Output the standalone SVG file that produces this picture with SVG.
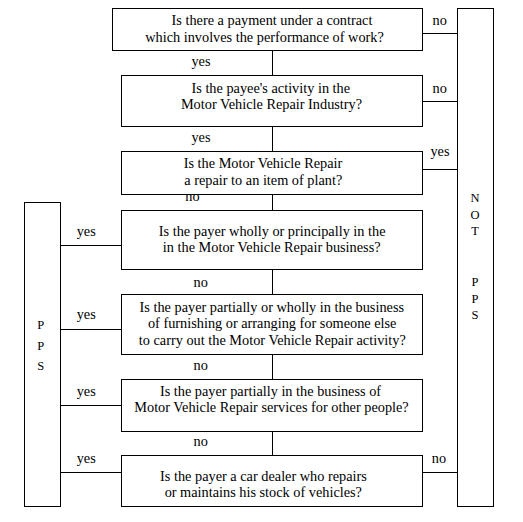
<svg xmlns="http://www.w3.org/2000/svg" width="523" height="522" viewBox="0 0 523 522">
<style>
.box{fill:#fff;stroke:#000;stroke-width:1}
.ln{stroke:#000;stroke-width:1;fill:none}
text{font-family:'Liberation Serif','DejaVu Serif','Times New Roman',Times,serif;font-size:14.3px;fill:#000;text-anchor:middle}
.lt{font-size:12.5px}
</style>
<rect width="523" height="522" fill="#fff"/>
<g id="connectors">
<path class="ln" d="M272.5 50.5V455.5"/>
<path class="ln" d="M422.5 33.5H457.5M422.5 101.5H457.5M422.5 169.5H457.5M422.5 472.5H457.5"/>
<path class="ln" d="M60.5 245.5H121.5M60.5 329.5H121.5M60.5 405.5H121.5M60.5 472.5H121.5"/>
</g>
<g id="labels">
<text x="439.7" y="25">no</text>
<text x="201" y="66">yes</text>
<text x="439.7" y="92.7">no</text>
<text x="201" y="141.7">yes</text>
<text x="440" y="155.7">yes</text>
<text x="192.5" y="200.5">no</text>
<text x="86.2" y="235.7">yes</text>
<text x="200.7" y="286.7">no</text>
<text x="86.2" y="319.3">yes</text>
<text x="200.7" y="370">no</text>
<text x="86.2" y="395.7">yes</text>
<text x="200.7" y="446">no</text>
<text x="86.2" y="463.3">yes</text>
<text x="439" y="463.3">no</text>
</g>
<g id="q1">
<rect class="box" x="112.5" y="8.5" width="310" height="42"/>
<text x="272" y="25">Is there a payment under a contract</text>
<text x="264.5" y="41.7">which involves the performance of work?</text>
</g>
<g id="q2">
<rect class="box" x="121.5" y="75.5" width="301" height="51"/>
<text x="270.8" y="92.7">Is the payee's activity in the</text>
<text x="271.5" y="109.3">Motor Vehicle Repair  Industry?</text>
</g>
<g id="q3">
<rect class="box" x="121.5" y="151.5" width="301" height="43"/>
<text x="263" y="168.3">Is the Motor Vehicle Repair</text>
<text x="263.3" y="185">a repair to an item of plant?</text>
</g>
<g id="q4">
<rect class="box" x="121.5" y="210.5" width="301" height="59"/>
<text x="272.2" y="235.7">Is the payer wholly or principally in the</text>
<text x="271.7" y="252.3">in the Motor Vehicle Repair business?</text>
</g>
<g id="q5">
<rect class="box" x="121.5" y="294.5" width="301" height="60"/>
<text x="271.8" y="311.7">Is the payer partially or wholly in the business</text>
<text x="272.2" y="328.3">of furnishing or arranging for someone else</text>
<text x="272.3" y="345">to carry out the Motor Vehicle Repair activity?</text>
</g>
<g id="q6">
<rect class="box" x="121.5" y="379.5" width="301" height="52"/>
<text x="270.5" y="395.7">Is the payer partially in the business of</text>
<text x="271.5" y="412.3">Motor Vehicle Repair services for other people?</text>
</g>
<g id="q7">
<rect class="box" x="121.5" y="455.5" width="301" height="51"/>
<text x="263.5" y="480.7">Is the payer a car dealer who repairs</text>
<text x="263.3" y="497.3">or maintains his stock of vehicles?</text>
</g>
<g id="pps">
<rect class="box" x="24.5" y="202.5" width="36" height="304"/>
<text class="lt" x="40.7" y="329.3">P</text>
<text class="lt" x="40.7" y="349.7">P</text>
<text class="lt" x="40.7" y="370">S</text>
</g>
<g id="notpps">
<rect class="box" x="457.5" y="8.5" width="36" height="498"/>
<text class="lt" x="475" y="202">N</text>
<text class="lt" x="475" y="218.5">O</text>
<text class="lt" x="475" y="235">T</text>
<text class="lt" x="475" y="286">P</text>
<text class="lt" x="475" y="302.5">P</text>
<text class="lt" x="475" y="319">S</text>
</g>
</svg>
